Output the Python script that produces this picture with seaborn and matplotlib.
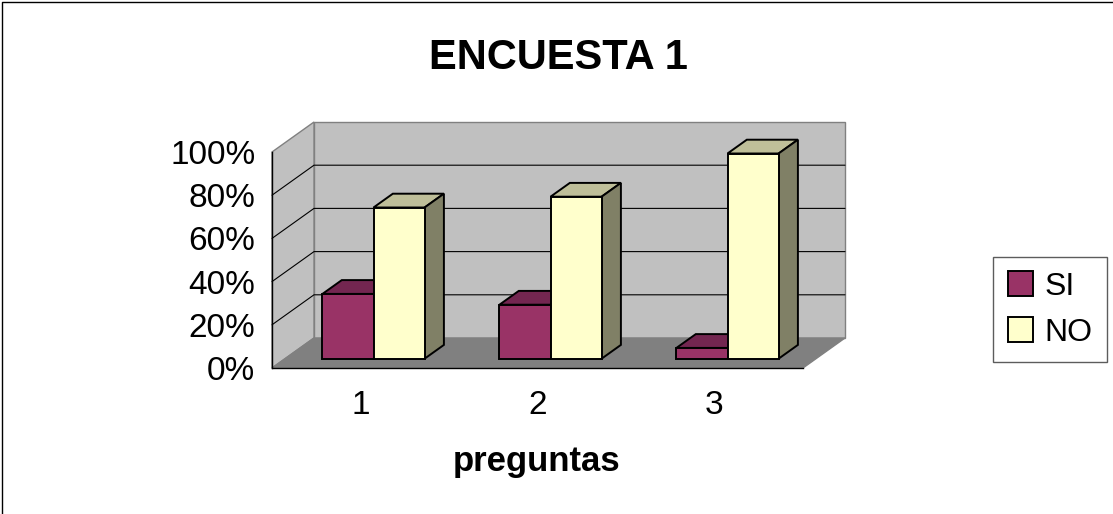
import matplotlib
matplotlib.use("Agg")
import matplotlib.pyplot as plt
import matplotlib.transforms as mtransforms
from matplotlib.lines import Line2D
from matplotlib.patches import Polygon
import pandas as pd
import seaborn as sns

# chart values (fractions of 1 -> shown as %)
preguntas = ["1", "2", "3"]
respuestas = ["SI", "NO"]
si_vals = [0.30, 0.25, 0.05]
no_vals = [0.70, 0.75, 0.95]
y_ticks = [0.0, 0.2, 0.4, 0.6, 0.8, 1.0]
y_labels = ["0%", "20%", "40%", "60%", "80%", "100%"]

SI_FRONT, SI_TOP, SI_SIDE = "#993366", "#732650", "#4d1a33"
NO_FRONT, NO_TOP, NO_SIDE = "#ffffcc", "#bfbf99", "#808066"
WALL, FLOOR, EDGE = "#c0c0c0", "#808080", "#808080"

W_PX, H_PX, DPI = 1113, 514, 100
# front plane of the plot box, in pixels
X0_PX, X1_PX = 272, 803
Y0_PX, Y1_PX = 368, 152
DEPTH_PX = (42, 30)      # full depth offset of the 3d box
BAR_FRONT, BAR_BACK = 0.31, 0.77

sns.set_style("white")
plt.rcParams["font.family"] = ["Liberation Sans", "DejaVu Sans"]
plt.rcParams["text.color"] = "black"
plt.rcParams["xtick.labelcolor"] = "black"
plt.rcParams["ytick.labelcolor"] = "black"

fig = plt.figure(figsize=(W_PX / DPI, H_PX / DPI), dpi=DPI)
ax = fig.add_axes([X0_PX / W_PX, (H_PX - Y0_PX) / H_PX,
                   (X1_PX - X0_PX) / W_PX, (Y0_PX - Y1_PX) / H_PX])
ax.patch.set_visible(False)

df = pd.DataFrame({
    "pregunta": preguntas * 2,
    "respuesta": [respuestas[0]] * 3 + [respuestas[1]] * 3,
    "valor": si_vals + no_vals,
})

sns.barplot(data=df, x="pregunta", y="valor", hue="respuesta",
            palette=[SI_FRONT, NO_FRONT], saturation=1, width=0.577,
            edgecolor="black", linewidth=1.4, ax=ax)

ax.set_xlim(-0.5, 2.5)
ax.set_ylim(0, 1)

# depth offset expressed in data units
dx = DEPTH_PX[0] / (X1_PX - X0_PX) * 3.0
dy = DEPTH_PX[1] / (Y0_PX - Y1_PX)


def proj(x, y, d):
    return (x + d * dx, y + d * dy)


def face(pts, color, z, edge="black", lw=1.4):
    ax.add_patch(Polygon(pts, closed=True, facecolor=color, edgecolor=edge,
                         linewidth=lw, zorder=z, clip_on=False,
                         joinstyle="miter"))


xa, xb = ax.get_xlim()
# walls and floor
face([proj(xa, 0, 1), proj(xb, 0, 1), proj(xb, 1, 1), proj(xa, 1, 1)],
     WALL, 0.5, edge=EDGE, lw=1.0)
face([proj(xa, 0, 0), proj(xa, 0, 1), proj(xa, 1, 1), proj(xa, 1, 0)],
     WALL, 0.5, edge=EDGE, lw=1.0)
face([proj(xa, 0, 0), proj(xb, 0, 0), proj(xb, 0, 1), proj(xa, 0, 1)],
     FLOOR, 0.6, edge=EDGE, lw=1.0)
for yv in y_ticks[1:-1]:
    p0, p1, p2 = proj(xa, yv, 0), proj(xa, yv, 1), proj(xb, yv, 1)
    ax.plot([p0[0], p1[0], p2[0]], [p0[1], p1[1], p2[1]], color="black",
            lw=0.8, zorder=0.7, clip_on=False)

# 3d faces of the bars
shift = mtransforms.ScaledTranslation(BAR_FRONT * DEPTH_PX[0] / DPI,
                                      BAR_FRONT * DEPTH_PX[1] / DPI,
                                      fig.dpi_scale_trans)
colors = [(SI_TOP, SI_SIDE), (NO_TOP, NO_SIDE)]
for k, cont in enumerate(ax.containers):
    top_c, side_c = colors[k]
    z = 3 + k
    for p in cont:
        x0, w, h = p.get_x(), p.get_width(), p.get_height()
        face([proj(x0, h, BAR_FRONT), proj(x0 + w, h, BAR_FRONT),
              proj(x0 + w, h, BAR_BACK), proj(x0, h, BAR_BACK)], top_c, z)
        face([proj(x0 + w, 0, BAR_FRONT), proj(x0 + w, 0, BAR_BACK),
              proj(x0 + w, h, BAR_BACK), proj(x0 + w, h, BAR_FRONT)], side_c, z)
        p.set_transform(ax.transData + shift)
        p.set_zorder(z + 0.5)
        p.set_clip_on(False)

# axes, ticks, labels
for s in ["top", "right"]:
    ax.spines[s].set_visible(False)
for s in ["left", "bottom"]:
    ax.spines[s].set_color("black")
    ax.spines[s].set_linewidth(1.0)
    ax.spines[s].set_zorder(6)

ax.set_yticks(y_ticks)
ax.set_yticklabels(y_labels, fontsize=24)
ax.tick_params(axis="y", direction="out", length=4, width=1, pad=8,
               colors="black")
ax.set_xticks(range(len(preguntas)))
ax.set_xticklabels(preguntas, fontsize=24)
ax.set_xticks([xa + i for i in range(len(preguntas) + 1)], minor=True)
ax.tick_params(axis="x", which="major", length=0, pad=16)
ax.tick_params(axis="x", which="minor", direction="out", length=4, width=1,
               colors="black")
ax.set_xlabel("")
ax.set_ylabel("")

handles, labels = ax.get_legend_handles_labels()
ax.get_legend().remove()
leg = fig.legend(handles, labels, loc="center",
                 bbox_to_anchor=(1050 / W_PX, 1 - 309.5 / H_PX),
                 fontsize=23, frameon=True, fancybox=False, shadow=False,
                 handlelength=0.8, handleheight=0.8, handletextpad=0.35,
                 labelspacing=0.5, borderpad=0.45, borderaxespad=0)
leg.get_frame().set_edgecolor("#333333")
leg.get_frame().set_linewidth(1.0)

fig.text(558 / W_PX, 1 - 69 / H_PX, "ENCUESTA 1", ha="center",
         va="baseline", fontsize=30, fontweight="bold")
fig.text(537 / W_PX, 1 - 471 / H_PX, "preguntas", ha="center",
         va="baseline", fontsize=25, fontweight="bold")

# chart area border (left and top edges visible in the picture)
fig.add_artist(Line2D([1.5 / W_PX, 1.5 / W_PX, 1], [0, 1 - 1.5 / H_PX, 1 - 1.5 / H_PX],
                      transform=fig.transFigure, color="black", lw=1.0))

fig.savefig("out.png", dpi=DPI)
